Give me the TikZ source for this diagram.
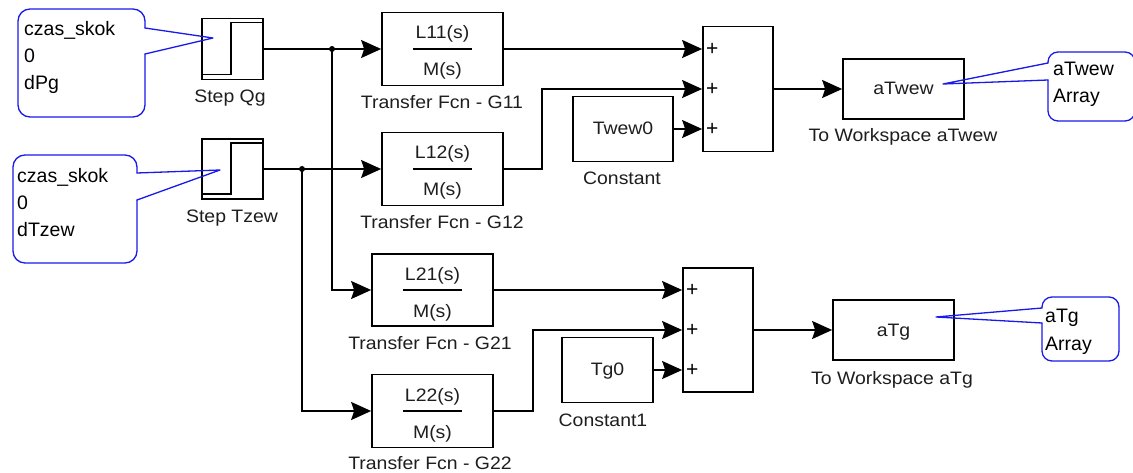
\documentclass[tikz,border=0pt]{standalone}
\usepackage{fontspec}
\setmainfont{Liberation Sans}
\newfontfamily\simfont[FakeStretch=1.08]{Liberation Sans}
\usetikzlibrary{arrows.meta,calc}
\definecolor{callblue}{RGB}{25,25,235}
\definecolor{simtext}{RGB}{30,30,30}
\begin{document}
\begin{tikzpicture}[x=1pt,y=-1pt,
  blk/.style={draw, line width=1.7pt, inner sep=0pt},
  lbl/.style={anchor=base, inner sep=0pt, font=\simfont\fontsize{18}{20}\selectfont, text=simtext},
  sig/.style={line width=1.7pt, -{Stealth[length=20pt,width=18pt,inset=3pt]}},
  wire/.style={line width=1.7pt},
  frac/.style={line width=1.5pt},
  callout/.style={draw=callblue, line width=1.3pt, line cap=round, line join=round},
  ctext/.style={anchor=base west, inner sep=0pt, font=\fontsize{19.5}{24}\selectfont},
  plus/.style={inner sep=0pt, font=\fontsize{21}{22}\selectfont},
  dot/.style={circle, fill=black, inner sep=0pt, minimum size=6pt}
]
\useasboundingbox (0,0) rectangle (1133,473);
\fill[white] (0,0) rectangle (1133,473);

% ---------- blocks ----------
\node[blk, minimum width=61pt, minimum height=61pt] (stepQ) at (232.5,49) {};
\node[blk, minimum width=61pt, minimum height=60pt] (stepT) at (232.5,169) {};
\node[blk, minimum width=121pt, minimum height=73pt] (G11) at (442.5,49) {};
\node[blk, minimum width=121pt, minimum height=73pt] (G12) at (442.5,169) {};
\node[blk, minimum width=121pt, minimum height=72pt] (G21) at (432.5,290) {};
\node[blk, minimum width=121pt, minimum height=73pt] (G22) at (432.5,411) {};
\node[blk, minimum width=100pt, minimum height=65pt] (const1) at (623,129) {};
\node[blk, minimum width=91pt, minimum height=65pt] (const2) at (607.5,370) {};
\node[blk, minimum width=70pt, minimum height=125pt] (sum1) at (738,89) {};
\node[blk, minimum width=70pt, minimum height=124pt] (sum2) at (718,330) {};
\node[blk, minimum width=121pt, minimum height=60pt] (ws1) at (903.5,89) {};
\node[blk, minimum width=121pt, minimum height=60pt] (ws2) at (893.5,330) {};

% step icons
\foreach \s in {stepQ,stepT}{
  \draw[frac] ($(\s.north east)+(0,5)$) -- ($(\s.north west)+(30,5)$)
     -- ($(\s.south west)+(30,-6)$) -- ($(\s.south west)+(0,-6)$);
}

% transfer function contents
\foreach \g/\n in {G11/L11,G12/L12,G21/L21,G22/L22}{
  \draw[frac] ($(\g.center)+(-29.5,0)$) -- ($(\g.center)+(29.5,0)$);
  \node[lbl] (\g num) at ($(\g.center)+(0,-10)$) {\n(s)};
  \node[lbl] (\g den) at ($(\g.center)+(0,27)$) {M(s)};
}

% block inner texts
\node[lbl] (c1txt) at ($(const1.center)+(0,6)$) {Twew0};
\node[lbl] (c2txt) at ($(const2.center)+(0,5)$) {Tg0};
\node[lbl] (w1txt) at ($(ws1.center)+(0,6)$) {aTwew};
\node[lbl] (w2txt) at ($(ws2.center)+(0,6)$) {aTg};

% block labels
\node[lbl] (lstepQ) at (230,103) {Step Qg};
\node[lbl] (lstepT) at (232,223) {Step Tzew};
\node[lbl] (lG11) at (442,109) {Transfer Fcn - G11};
\node[lbl] (lG12) at (442,229) {Transfer Fcn - G12};
\node[lbl] (lG21) at (430,349) {Transfer Fcn - G21};
\node[lbl] (lG22) at (430,469) {Transfer Fcn - G22};
\node[lbl] (lc1) at (622,185) {Constant};
\node[lbl] (lc2) at (603,426) {Constant1};
\node[lbl] (lws1) at (903,142) {To Workspace aTwew};
\node[lbl] (lws2) at (892,384) {To Workspace aTg};

% sum ports and plus signs
\coordinate (s1a) at (sum1.west |- G11.east);
\coordinate (s1b) at (sum1.west);
\coordinate (s1c) at (sum1.west |- const1.east);
\coordinate (s2a) at (sum2.west |- G21.east);
\coordinate (s2b) at (sum2.west);
\coordinate (s2c) at (sum2.west |- const2.east);
\foreach \p in {s1a,s1b,s1c,s2a,s2b,s2c}{
  \node[plus] (\p plus) at ($(\p)+(10,0)$) {+};
}

% junctions and bends
\coordinate (j1) at (332,49);
\coordinate (j2) at (302,169);
\coordinate (b1) at (542,169);
\coordinate (b2) at (533,411);

% ---------- connectors ----------
\draw[sig] (stepQ.east) -- (G11.west);
\draw[sig] (stepT.east) -- (G12.west);
\draw[sig] (j1) |- (G21.west);
\draw[sig] (j2) |- (G22.west);
\node[dot] (dj1) at (j1) {};
\node[dot] (dj2) at (j2) {};
\draw[sig] (G11.east) -- (s1a);
\draw[sig] (G12.east) -- (b1) |- (s1b);
\draw[sig] (const1.east) -- (s1c);
\draw[sig] (sum1.east) -- (ws1.west);
\draw[sig] (G21.east) -- (s2a);
\draw[sig] (G22.east) -- (b2) |- (s2b);
\draw[sig] (const2.east) -- (s2c);
\draw[sig] (sum2.east) -- (ws2.west);

% ---------- callouts ----------
\draw[callout, rounded corners=12pt] (145,54) -- (145,117) -- (18,117) -- (18,9) -- (145,9) -- (145,28);
\draw[callout] (145,28) -- (213,38) -- (145,54);
\node[ctext] (c1a) at (24,36) {czas\_skok};
\node[ctext] (c1b) at (24,63) {0};
\node[ctext] (c1c) at (24,90) {dPg};

\draw[callout, rounded corners=12pt] (137,200) -- (137,263) -- (13,263) -- (13,155) -- (137,155) -- (137,173);
\draw[callout] (137,173) -- (220,170) -- (137,200);
\node[ctext] (c2a) at (17,183) {czas\_skok};
\node[ctext] (c2b) at (17,210) {0};
\node[ctext] (c2c) at (17,237) {dTzew};

\draw[callout, rounded corners=10pt] (1048,80) -- (1048,121) -- (1135,121) -- (1135,52) -- (1048,52) -- (1048,63);
\draw[callout] (1048,63) -- (943,84) -- (1048,80);
\node[ctext] (c3a) at (1053,76) {aTwew};
\node[ctext] (c3b) at (1053,103) {Array};

\draw[callout, rounded corners=10pt] (1042,323) -- (1042,361) -- (1119,361) -- (1119,297) -- (1042,297) -- (1042,308);
\draw[callout] (1042,308) -- (936,317) -- (1042,323);
\node[ctext] (c4a) at (1045,322) {aTg};
\node[ctext] (c4b) at (1045,350) {Array};
\end{tikzpicture}
\end{document}
